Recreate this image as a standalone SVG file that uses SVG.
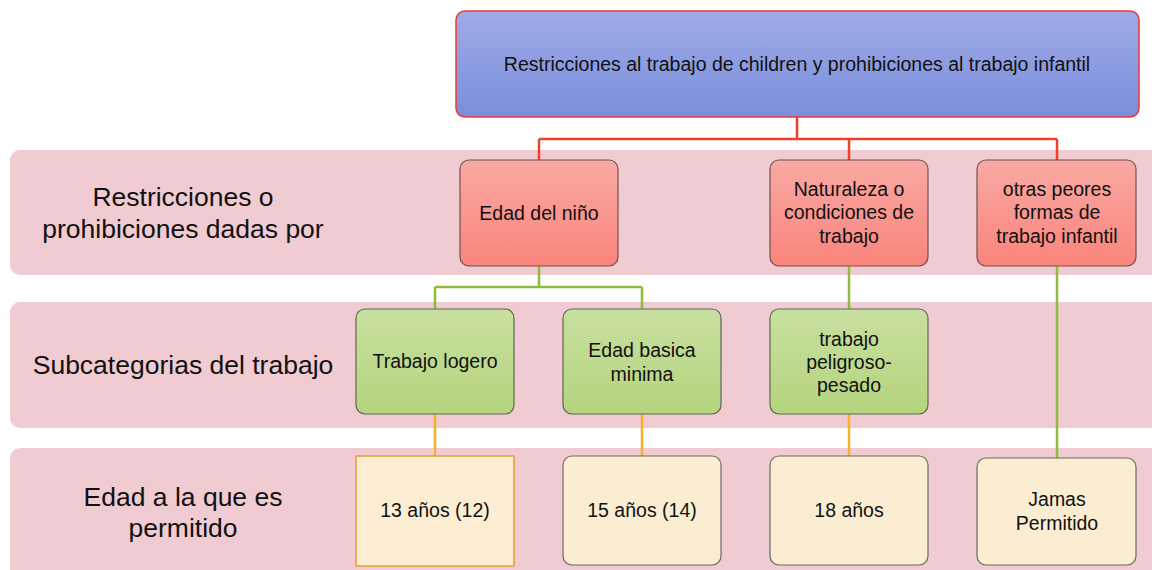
<svg xmlns="http://www.w3.org/2000/svg" width="1152" height="570" viewBox="0 0 1152 570">
<defs>
<linearGradient id="gBlue" x1="0" y1="0" x2="0" y2="1"><stop offset="0" stop-color="#a0abe7"/><stop offset="1" stop-color="#7a8edc"/></linearGradient>
<linearGradient id="gRed" x1="0" y1="0" x2="0" y2="1"><stop offset="0" stop-color="#f8a9a3"/><stop offset="1" stop-color="#fa847c"/></linearGradient>
<linearGradient id="gGreen" x1="0" y1="0" x2="0" y2="1"><stop offset="0" stop-color="#c8e0a1"/><stop offset="1" stop-color="#b4d47d"/></linearGradient>
</defs>
<style>
.band{fill:#f0cbd2}
.lbl{font-family:"Liberation Sans",Arial,sans-serif;font-size:26.5px;fill:#111;text-anchor:middle}
.t{font-family:"Liberation Sans",Arial,sans-serif;font-size:19.5px;fill:#111;text-anchor:middle}
.red{fill:url(#gRed);stroke:#6e5252;stroke-width:1.2}
.green{fill:url(#gGreen);stroke:#5c6850;stroke-width:1.2}
.cream{fill:#faedd1;stroke:#6a6a60;stroke-width:1.2}
.cr{fill:none;stroke:#f0402a;stroke-width:2.5}
.cg{fill:none;stroke:#90bc3a;stroke-width:2.5}
.co{fill:none;stroke:#f5b02e;stroke-width:2.5}
</style>
<rect width="1152" height="570" fill="#ffffff"/>
<g id="bands">
<rect class="band" x="10" y="150" width="1160" height="125" rx="10"/>
<rect class="band" x="10" y="302" width="1160" height="126" rx="10"/>
<rect class="band" x="10" y="448" width="1160" height="135" rx="10"/>
</g>
<g id="row-labels">
<text class="lbl" x="183" y="206">Restricciones o</text>
<text class="lbl" x="183" y="238">prohibiciones dadas por</text>
<text class="lbl" x="183" y="374">Subcategorias del trabajo</text>
<text class="lbl" x="183" y="506">Edad a la que es</text>
<text class="lbl" x="183" y="537">permitido</text>
</g>
<g id="connectors">
<path class="cr" d="M797,117 V139 M539,139 H1057 M539,139 V160 M849,139 V160 M1057,139 V160"/>
<path class="cg" d="M539,266 V287 M435,287 H642 M435,287 V309 M642,287 V309 M849,266 V309 M1057,266 V458"/>
<path class="co" d="M435,414 V456 M642,414 V456 M849,414 V456"/>
</g>
<g id="root">
<rect x="456" y="11" width="683" height="106" rx="9" fill="url(#gBlue)" stroke="#e83a3a" stroke-width="1.5"/>
<text class="t" x="797" y="71">Restricciones al trabajo de children y prohibiciones al trabajo infantil</text>
</g>
<g id="edad-nino">
<rect class="red" x="460" y="160" width="158" height="106" rx="9"/>
<text class="t" x="539" y="220">Edad del niño</text>
</g>
<g id="naturaleza">
<rect class="red" x="770" y="160" width="158" height="106" rx="9"/>
<text class="t" x="849" y="196">Naturaleza o</text>
<text class="t" x="849" y="219">condiciones de</text>
<text class="t" x="849" y="243">trabajo</text>
</g>
<g id="otras">
<rect class="red" x="977" y="160" width="159" height="106" rx="9"/>
<text class="t" x="1057" y="196">otras peores</text>
<text class="t" x="1057" y="219">formas de</text>
<text class="t" x="1057" y="243">trabajo infantil</text>
</g>
<g id="logero">
<rect class="green" x="356" y="309" width="158" height="105" rx="9"/>
<text class="t" x="435" y="368">Trabajo logero</text>
</g>
<g id="basica">
<rect class="green" x="563" y="309" width="158" height="105" rx="9"/>
<text class="t" x="642" y="357">Edad basica</text>
<text class="t" x="642" y="381">minima</text>
</g>
<g id="peligroso">
<rect class="green" x="770" y="309" width="158" height="105" rx="9"/>
<text class="t" x="849" y="346">trabajo</text>
<text class="t" x="849" y="369">peligroso-</text>
<text class="t" x="849" y="392">pesado</text>
</g>
<g id="a13">
<rect x="356" y="456" width="158" height="110" fill="#fdeed3" stroke="#e2a132" stroke-width="1.5"/>
<text class="t" x="435" y="517">13 años (12)</text>
</g>
<g id="a15">
<rect class="cream" x="563" y="456" width="158" height="109" rx="9"/>
<text class="t" x="642" y="517">15 años (14)</text>
</g>
<g id="a18">
<rect class="cream" x="770" y="456" width="158" height="109" rx="9"/>
<text class="t" x="849" y="517">18 años</text>
</g>
<g id="jamas">
<rect class="cream" x="977" y="458" width="159" height="107" rx="9"/>
<text class="t" x="1057" y="506">Jamas</text>
<text class="t" x="1057" y="530">Permitido</text>
</g>
</svg>
